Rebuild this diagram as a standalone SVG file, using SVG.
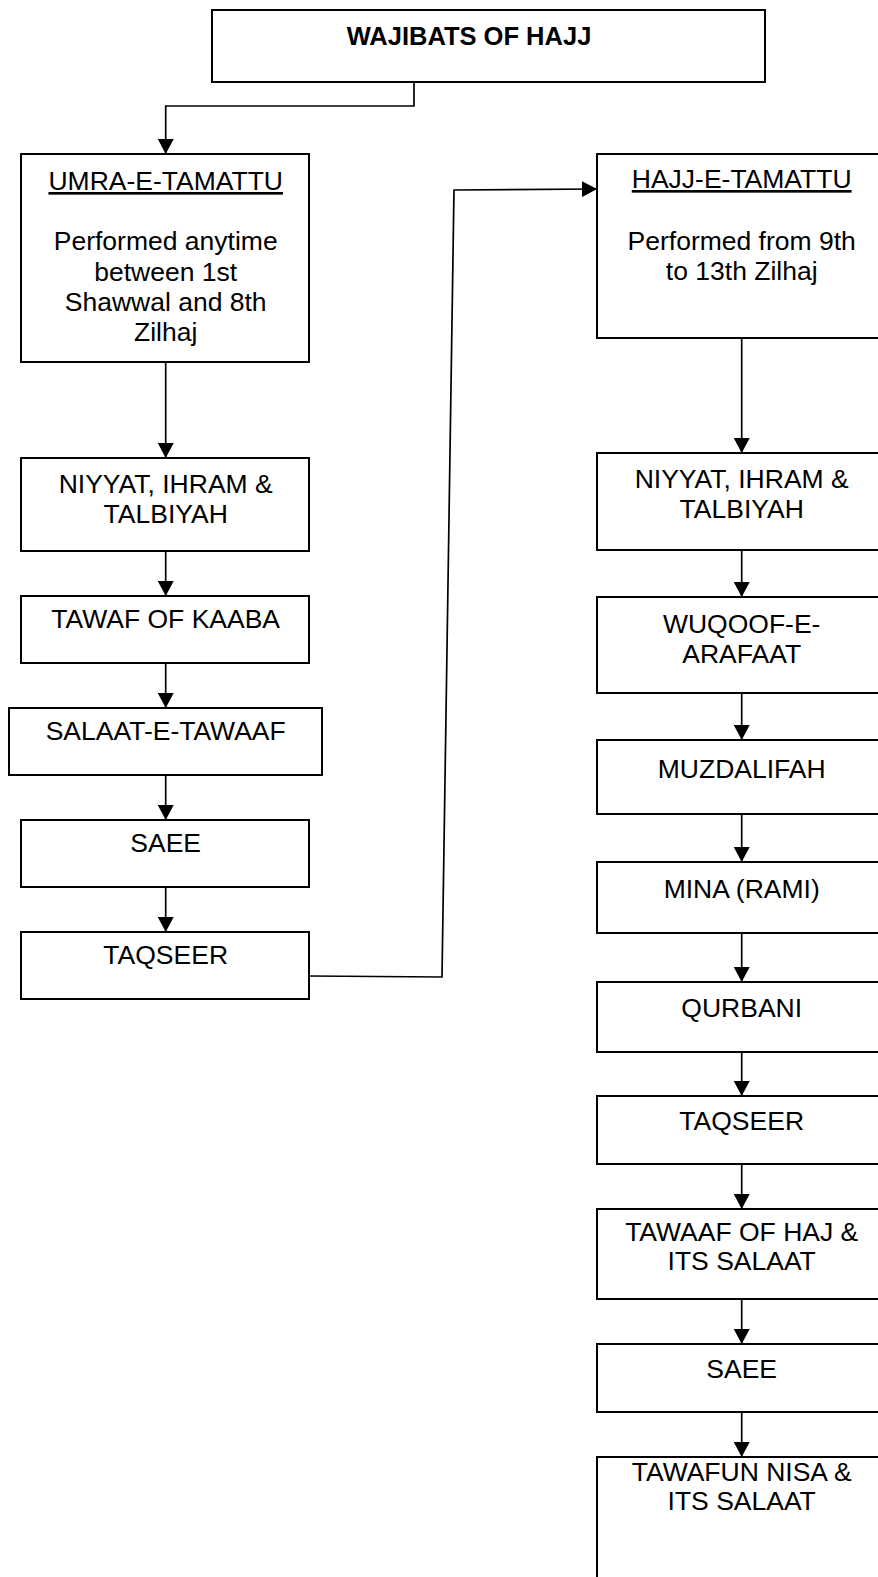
<svg xmlns="http://www.w3.org/2000/svg" width="878" height="1577" viewBox="0 0 878 1577">
<defs>
<style>
.box{fill:#fff;stroke:#000;stroke-width:2}
.t{font-family:"Liberation Sans",Arial,sans-serif;font-size:26.5px;fill:#000;text-anchor:middle}
.b{font-weight:bold;font-size:25.5px}
.u{text-decoration:underline}
.c{fill:none;stroke:#000;stroke-width:1.7}
</style>
<marker id="ah" markerUnits="userSpaceOnUse" markerWidth="15" markerHeight="16" refX="15" refY="8" orient="auto">
<path d="M0,0 L15,8 L0,16 z" fill="#000"/>
</marker>
</defs>
<rect width="878" height="1577" fill="#fff"/>
<g id="connectors">
<path class="c" d="M414,82 V106 H165.7 V154" marker-end="url(#ah)"/>
<path class="c" d="M165.7,362 V458" marker-end="url(#ah)"/>
<path class="c" d="M165.7,551 V596" marker-end="url(#ah)"/>
<path class="c" d="M165.7,663 V708" marker-end="url(#ah)"/>
<path class="c" d="M165.7,775 V820" marker-end="url(#ah)"/>
<path class="c" d="M165.7,887 V932" marker-end="url(#ah)"/>
<path class="c" d="M309,976 L442,977 L454,190 L597,189" marker-end="url(#ah)"/>
<path class="c" d="M741.7,338 V453" marker-end="url(#ah)"/>
<path class="c" d="M741.7,550 V597" marker-end="url(#ah)"/>
<path class="c" d="M741.7,693 V740" marker-end="url(#ah)"/>
<path class="c" d="M741.7,814 V862" marker-end="url(#ah)"/>
<path class="c" d="M741.7,933 V982" marker-end="url(#ah)"/>
<path class="c" d="M741.7,1050 V1096" marker-end="url(#ah)"/>
<path class="c" d="M741.7,1164 V1209" marker-end="url(#ah)"/>
<path class="c" d="M741.7,1299 V1344" marker-end="url(#ah)"/>
<path class="c" d="M741.7,1412 V1457" marker-end="url(#ah)"/>
</g>
<g id="title"><rect class="box" x="212" y="10" width="553" height="72"/><text class="t b" x="469" y="45">WAJIBATS OF HAJJ</text></g>
<g id="umra"><rect class="box" x="21" y="154" width="288" height="208"/>
<text class="t u" x="165.7" y="190">UMRA-E-TAMATTU</text>
<text class="t" x="165.7" y="250">Performed anytime</text>
<text class="t" x="165.7" y="281">between 1st</text>
<text class="t" x="165.7" y="311">Shawwal and 8th</text>
<text class="t" x="165.7" y="341">Zilhaj</text></g>
<g id="l-niyyat"><rect class="box" x="21" y="458" width="288" height="93"/>
<text class="t" x="165.7" y="493">NIYYAT, IHRAM &amp;</text>
<text class="t" x="165.7" y="523">TALBIYAH</text></g>
<g id="l-tawaf"><rect class="box" x="21" y="596" width="288" height="67"/><text class="t" x="165.7" y="628">TAWAF OF KAABA</text></g>
<g id="l-salaat"><rect class="box" x="9" y="708" width="313" height="67"/><text class="t" x="165.7" y="740">SALAAT-E-TAWAAF</text></g>
<g id="l-saee"><rect class="box" x="21" y="820" width="288" height="67"/><text class="t" x="165.7" y="852">SAEE</text></g>
<g id="l-taqseer"><rect class="box" x="21" y="932" width="288" height="67"/><text class="t" x="165.7" y="964">TAQSEER</text></g>
<g id="hajj"><rect class="box" x="597" y="154" width="290" height="184"/>
<text class="t u" x="741.7" y="188">HAJJ-E-TAMATTU</text>
<text class="t" x="741.7" y="250">Performed from 9th</text>
<text class="t" x="741.7" y="280">to 13th Zilhaj</text></g>
<g id="r-niyyat"><rect class="box" x="597" y="453" width="290" height="97"/>
<text class="t" x="741.7" y="488">NIYYAT, IHRAM &amp;</text>
<text class="t" x="741.7" y="518">TALBIYAH</text></g>
<g id="r-wuqoof"><rect class="box" x="597" y="597" width="290" height="96"/>
<text class="t" x="741.7" y="633">WUQOOF-E-</text>
<text class="t" x="741.7" y="663">ARAFAAT</text></g>
<g id="r-muzdalifah"><rect class="box" x="597" y="740" width="290" height="74"/><text class="t" x="741.7" y="778">MUZDALIFAH</text></g>
<g id="r-mina"><rect class="box" x="597" y="862" width="290" height="71"/><text class="t" x="741.7" y="898">MINA (RAMI)</text></g>
<g id="r-qurbani"><rect class="box" x="597" y="982" width="290" height="70"/><text class="t" x="741.7" y="1017">QURBANI</text></g>
<g id="r-taqseer"><rect class="box" x="597" y="1096" width="290" height="68"/><text class="t" x="741.7" y="1130">TAQSEER</text></g>
<g id="r-tawaaf"><rect class="box" x="597" y="1209" width="290" height="90"/>
<text class="t" x="741.7" y="1241">TAWAAF OF HAJ &amp;</text>
<text class="t" x="741.7" y="1270">ITS SALAAT</text></g>
<g id="r-saee"><rect class="box" x="597" y="1344" width="290" height="68"/><text class="t" x="741.7" y="1378">SAEE</text></g>
<g id="r-tawafun"><rect class="box" x="597" y="1457" width="290" height="140"/>
<text class="t" x="741.7" y="1481">TAWAFUN NISA &amp;</text>
<text class="t" x="741.7" y="1510">ITS SALAAT</text></g>
</svg>
